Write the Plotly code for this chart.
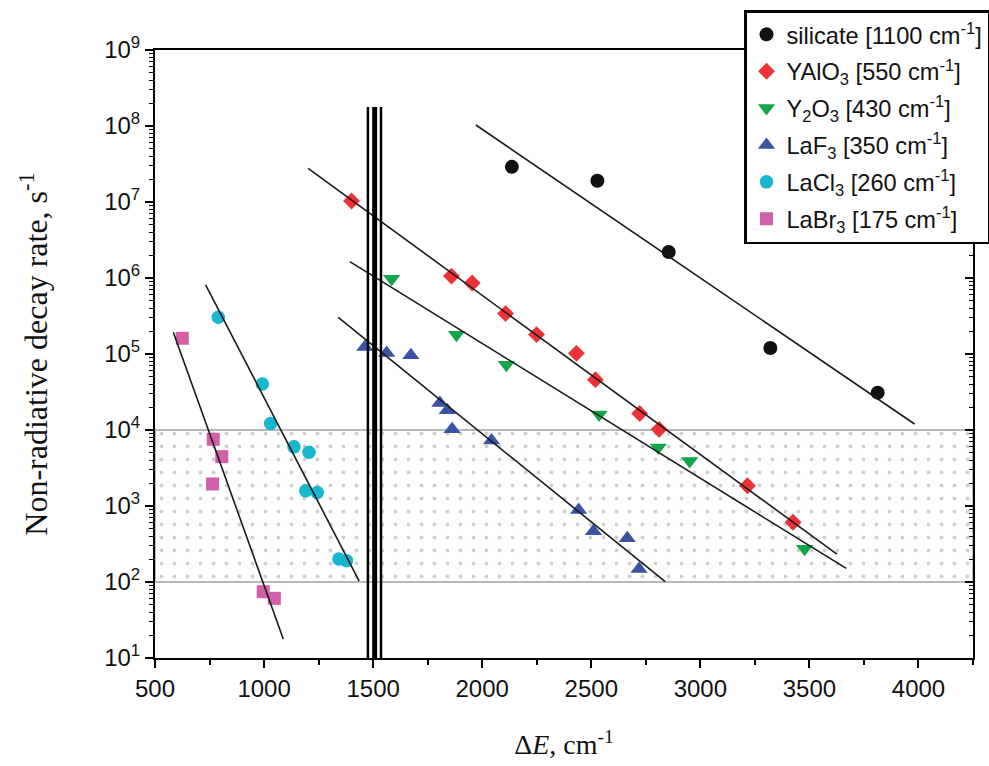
import plotly.graph_objects as go

# ---------------- data ----------------
silicate_x = [2136, 2528, 2855, 3321, 3813]
silicate_y = [2.9e7, 1.9e7, 2.2e6, 1.2e5, 3.1e4]
silicate_fit_x = [1971, 3982]
silicate_fit_y = [1.03e8, 1.2e4]

yalo3_x = [1401, 1859, 1954, 2107, 2249, 2432, 2519, 2722, 2811, 3216, 3425]
yalo3_y = [1.03e7, 1.06e6, 8.6e5, 3.4e5, 1.8e5, 1.02e5, 4.6e4, 1.65e4, 1.02e4, 1.85e3, 611]
yalo3_fit_x = [1202, 3626]
yalo3_fit_y = [2.77e7, 233]

y2o3_x = [1585, 1882, 2111, 2536, 2807, 2951, 3478]
y2o3_y = [9.8e5, 1.79e5, 7.2e4, 1.6e4, 5.9e3, 3.9e3, 274]
y2o3_fit_x = [1393, 3669]
y2o3_fit_y = [1.64e6, 151]

laf3_x = [1462, 1562, 1673, 1806, 1840, 1862, 2043, 2442, 2510, 2665, 2719]
laf3_y = [1.24e5, 1.03e5, 9.6e4, 2.26e4, 1.82e4, 1.02e4, 7.3e3, 885, 466, 377, 148]
laf3_fit_x = [1340, 2839]
laf3_fit_y = [3.04e5, 101]

lacl3_x = [790, 992, 1030, 1137, 1206, 1191, 1244, 1343, 1378]
lacl3_y = [3.04e5, 4.03e4, 1.22e4, 6.0e3, 5.1e3, 1.59e3, 1.51e3, 201, 191]
lacl3_fit_x = [732, 1436]
lacl3_fit_y = [8.1e5, 103]

labr3_x = [625, 767, 806, 764, 996, 1047]
labr3_y = [1.61e5, 7.55e3, 4.46e3, 1.95e3, 74.5, 61]
labr3_fit_x = [584, 1088]
labr3_fit_y = [1.93e5, 17.8]

series_names = [
    "silicate [1100 cm<sup>-1</sup>]",
    "YAlO<sub>3</sub> [550 cm<sup>-1</sup>]",
    "Y<sub>2</sub>O<sub>3</sub> [430 cm<sup>-1</sup>]",
    "LaF<sub>3</sub> [350 cm<sup>-1</sup>]",
    "LaCl<sub>3</sub> [260 cm<sup>-1</sup>]",
    "LaBr<sub>3</sub> [175 cm<sup>-1</sup>]",
]

band_y = [1e2, 1e4]
vlines_x = [1476, 1507, 1536]
vline_top = 1.78e8

x_range = [500, 4250]
x_ticks = [500, 1000, 1500, 2000, 2500, 3000, 3500, 4000]
y_range_log = [1, 9]
y_ticks = [1e1, 1e2, 1e3, 1e4, 1e5, 1e6, 1e7, 1e8, 1e9]
y_ticktext = ["10<sup>%d</sup>" % k for k in range(1, 10)]

# ---------------- styles ----------------
series = [
    (silicate_x, silicate_y, silicate_fit_x, silicate_fit_y, "circle", "#111111", 14),
    (yalo3_x, yalo3_y, yalo3_fit_x, yalo3_fit_y, "diamond", "#ec3237", 13),
    (y2o3_x, y2o3_y, y2o3_fit_x, y2o3_fit_y, "triangle-down", "#14a44a", 15),
    (laf3_x, laf3_y, laf3_fit_x, laf3_fit_y, "triangle-up", "#3a53a4", 15),
    (lacl3_x, lacl3_y, lacl3_fit_x, lacl3_fit_y, "circle", "#19b6d0", 13.5),
    (labr3_x, labr3_y, labr3_fit_x, labr3_fit_y, "square", "#d25fa9", 13),
]
vline_widths = [2.5, 5, 2.5]

SANS = "Liberation Sans, Arial, sans-serif"
SERIF = "Liberation Serif, Times New Roman, serif"

fig = go.Figure()

# shaded band
fig.add_trace(go.Scatter(
    x=[x_range[0], x_range[1], x_range[1], x_range[0], x_range[0]],
    y=[band_y[0], band_y[0], band_y[1], band_y[1], band_y[0]],
    mode="lines", fill="toself",
    fillcolor="rgba(255,255,255,0)",
    fillpattern=dict(shape=".", size=13, solidity=0.07, fgcolor="#a0a0a0", bgcolor="white"),
    line=dict(color="#b8b8b8", width=1.8),
    showlegend=False, hoverinfo="skip",
))

# markers
for i, (xs, ys, fx, fy, sym, col, sz) in enumerate(series):
    fig.add_trace(go.Scatter(
        x=xs, y=ys, mode="markers", name=series_names[i],
        legendgroup=f"g{i}",
        marker=dict(symbol=sym, color=col, size=sz, line=dict(width=0)),
    ))

# fit lines
for i, (xs, ys, fx, fy, sym, col, sz) in enumerate(series):
    fig.add_trace(go.Scatter(
        x=fx, y=fy, mode="lines", line=dict(color="#1a1a1a", width=1.6),
        showlegend=False, hoverinfo="skip",
    ))

# vertical lines
for vx, w in zip(vlines_x, vline_widths):
    fig.add_trace(go.Scatter(
        x=[vx, vx], y=[vline_top, y_ticks[0]], mode="lines",
        line=dict(color="black", width=w), showlegend=False, hoverinfo="skip",
    ))

# dummy trace for the right-hand inner ticks
fig.add_trace(go.Scatter(x=[None], y=[None], yaxis="y2", showlegend=False, hoverinfo="skip"))

fig.update_layout(
    width=989, height=766,
    margin=dict(l=155, r=16, t=50, b=108, autoexpand=False),
    paper_bgcolor="white", plot_bgcolor="white",
    showlegend=True,
    legend=dict(
        x=(744 - 155) / 818, y=(658 - 10) / 608, xanchor="left", yanchor="top",
        bgcolor="white", bordercolor="black", borderwidth=2.5,
        font=dict(family=SANS, size=23.6, color="#111"),
        tracegroupgap=3.2, itemsizing="trace",
    ),
    xaxis=dict(
        range=x_range, tickmode="array", tickvals=x_ticks,
        showline=True, linecolor="black", linewidth=2, mirror=True,
        ticks="outside", ticklen=8, tickwidth=2, tickcolor="black",
        minor=dict(dtick=250, tick0=500, ticks="outside", ticklen=5, tickwidth=1.5, tickcolor="black"),
        showgrid=False, zeroline=False,
        tickfont=dict(family=SANS, size=24, color="#111"),
        title=dict(text="Δ<i>E</i>, cm<sup>-1</sup>", font=dict(family=SERIF, size=28, color="#111"), standoff=34),
    ),
    yaxis=dict(
        type="log", range=y_range_log, tickmode="array", tickvals=y_ticks, ticktext=y_ticktext,
        showline=True, linecolor="black", linewidth=2, mirror=True,
        ticks="outside", ticklen=8, tickwidth=2, tickcolor="black",
        minor=dict(dtick="D1", ticks="outside", ticklen=4, tickwidth=1.2, tickcolor="black", showgrid=False),
        showgrid=False, zeroline=False,
        tickfont=dict(family=SANS, size=24, color="#111"),
        title=dict(text="Non-radiative decay rate, s<sup>-1</sup>", font=dict(family=SERIF, size=32, color="#111"), standoff=47),
    ),
    yaxis2=dict(
        type="log", range=y_range_log, dtick=1, overlaying="y", side="right", anchor="x",
        showline=False, showticklabels=False, showgrid=False, zeroline=False,
        ticks="inside", ticklen=8, tickwidth=2, tickcolor="black",
        minor=dict(dtick="D1", ticks="inside", ticklen=4, tickwidth=1.2, tickcolor="black", showgrid=False),
    ),
)

fig.write_html(
    "out.html",
    config={"displayModeBar": False},
    post_script="document.body.style.margin='0px';document.body.style.overflow='hidden';",
)
